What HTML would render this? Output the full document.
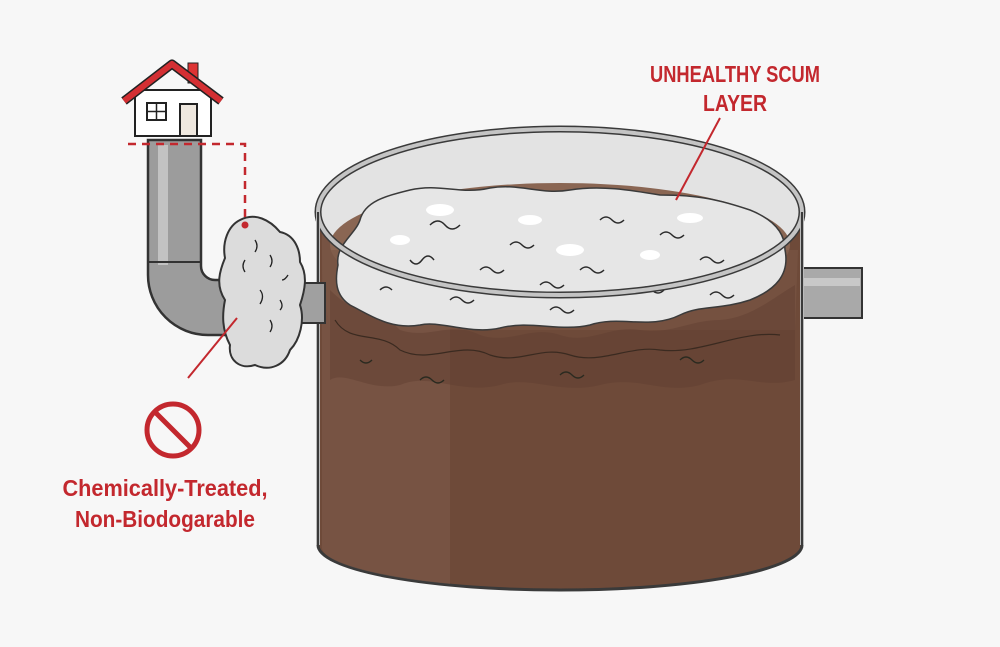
<!DOCTYPE html>
<html><head><meta charset="utf-8"><style>
html,body{margin:0;padding:0;background:#f7f7f7;}
svg{display:block;}
text{font-family:"Liberation Sans Narrow","Liberation Sans",sans-serif;font-weight:bold;fill:#c3282e;}
</style></head><body>
<svg width="1000" height="647" viewBox="0 0 1000 647">
<rect width="1000" height="647" fill="#f7f7f7"/>
<rect x="795" y="268" width="67" height="50" fill="#a9a9a9" stroke="#333" stroke-width="2"/>
<rect x="800" y="278" width="60" height="8" fill="#c8c8c8"/>
<!-- tank body -->
<path d="M318,212 L318,545 A242,45 0 0 0 802,545 L802,212 Z" fill="#6e4a39" stroke="#3a3a3a" stroke-width="3"/>
<path d="M322,212 L322,545 A238,42 0 0 0 450,584 L450,212 Z" fill="#82604f" opacity="0.45"/>
<!-- inside top (air) -->
<ellipse cx="560" cy="212" rx="240" ry="82" fill="#e3e3e3"/>
<!-- liquid surface -->
<ellipse cx="560" cy="245" rx="230" ry="62" fill="#8a6653"/>
<path d="M322,250 C322,300 330,320 330,330 L795,330 L798,250 Z" fill="#7a5646" opacity="0.6"/>
<path d="M330,290 C360,320 380,310 400,330 C430,340 450,320 480,335 C510,345 530,325 560,335 C590,345 610,325 640,330 C670,335 690,320 720,320 C750,318 770,300 795,285 L795,380 C760,390 740,370 700,385 C660,395 640,375 600,385 C560,395 530,375 500,385 C460,395 430,372 400,385 C370,392 345,370 330,380 Z" fill="#5f3f30" opacity="0.45"/>
<path d="M335,320 C350,345 380,330 400,350 C430,365 460,340 490,355 C520,365 540,345 570,355 C600,365 630,345 660,350 C700,355 740,330 780,335" fill="none" stroke="#3a2a20" stroke-width="1.2"/>
<g fill="none" stroke="#2a2a20" stroke-width="1.3"><path d="M420,380 q6,-6 12,0 t12,0"/><path d="M560,375 q6,-6 12,0 t12,0"/><path d="M680,360 q6,-6 12,0 t12,0"/><path d="M360,360 q6,6 12,0"/></g>
<!-- scum -->
<path d="M338,265 C335,245 355,235 360,220 C365,200 390,195 410,190 C440,183 460,195 490,188 C520,183 540,195 570,190 C600,185 630,190 660,195 C700,195 720,200 750,210 C770,218 785,230 785,250 C790,275 775,290 750,300 C720,310 700,305 680,315 C650,330 620,315 590,325 C560,332 530,320 500,328 C470,335 440,320 420,325 C390,330 370,315 350,305 C335,295 335,280 338,265 Z" fill="#e6e6e6" stroke="#3a3a3a" stroke-width="1.5"/>
<g fill="none" stroke="#2a2a2a" stroke-width="1.5">
<path d="M430,225 q8,-8 15,0 t15,0"/><path d="M510,245 q6,-6 12,0 t12,0"/><path d="M600,220 q6,-6 12,0 t12,0"/><path d="M580,270 q6,-6 12,0 t12,0"/><path d="M660,235 q6,-6 12,0 t12,0"/><path d="M700,260 q6,-6 12,0 t12,0"/><path d="M480,270 q6,-6 12,0 t12,0"/><path d="M410,260 q6,8 12,0 t12,0"/><path d="M540,285 q6,-6 12,0 t12,0"/><path d="M640,290 q6,-6 12,0 t12,0"/><path d="M450,300 q6,-6 12,0 t12,0"/><path d="M710,295 q6,-6 12,0 t12,0"/><path d="M380,290 q6,-6 12,0"/><path d="M550,310 q6,-6 12,0 t12,0"/>
</g>
<g fill="#fff"><ellipse cx="440" cy="210" rx="14" ry="6"/><ellipse cx="530" cy="220" rx="12" ry="5"/><ellipse cx="570" cy="250" rx="14" ry="6"/><ellipse cx="650" cy="255" rx="10" ry="5"/><ellipse cx="690" cy="218" rx="13" ry="5"/><ellipse cx="400" cy="240" rx="10" ry="5"/></g>
<!-- rim -->
<ellipse cx="560" cy="212" rx="242" ry="83" fill="none" stroke="#3a3a3a" stroke-width="7"/>
<ellipse cx="560" cy="212" rx="242" ry="83" fill="none" stroke="#c4c4c4" stroke-width="4"/>
<path d="M318,212 L318,545" stroke="#bbb" stroke-width="4"/>
<path d="M802,212 L802,545" stroke="#bbb" stroke-width="4"/>
<path d="M318,212 L318,545 A242,45 0 0 0 802,545 L802,212" fill="none" stroke="#3a3a3a" stroke-width="2"/>
<!-- left pipe -->
<path d="M148,140 L148,275 A60,60 0 0 0 208,335 L232,335 L232,280 L215,280 A14,14 0 0 1 201,266 L201,140 Z" fill="#9c9c9c" stroke="#333" stroke-width="2.5"/>
<rect x="158" y="145" width="10" height="120" fill="#c2c2c2"/>
<path d="M148,262 L201,262" stroke="#333" stroke-width="2"/>
<rect x="300" y="283" width="25" height="40" fill="#a0a0a0" stroke="#333" stroke-width="2"/>
<!-- blob -->
<path d="M240,220 C255,212 270,220 280,232 C295,235 300,250 300,262 C308,275 305,290 300,305 C305,320 300,340 290,350 C285,365 270,372 255,365 C240,370 228,360 230,345 C222,330 222,315 225,300 C215,285 220,270 225,258 C222,242 228,226 240,220 Z" fill="#dcdcdc" stroke="#333" stroke-width="2"/>
<g fill="none" stroke="#222" stroke-width="1.3"><path d="M255,240 q4,6 0,12"/><path d="M245,260 q-4,6 0,12"/><path d="M270,255 q4,6 0,12"/><path d="M260,290 q5,6 0,14"/><path d="M280,300 q4,6 0,10"/><path d="M270,320 q4,6 0,12"/><path d="M288,275 q-3,5 -6,5"/></g>
<!-- house -->
<rect x="135" y="90" width="76" height="46" fill="#fff" stroke="#222" stroke-width="2"/>
<rect x="188" y="63" width="10" height="20" fill="#d33" stroke="#222" stroke-width="1"/>
<path d="M124,101 L172,64 L221,101" fill="none" stroke="#222" stroke-width="9" stroke-linejoin="round"/>
<path d="M124,101 L172,64 L221,101" fill="none" stroke="#d42f33" stroke-width="6" stroke-linejoin="round"/>
<rect x="147" y="103" width="19" height="17" fill="#fff" stroke="#222" stroke-width="2"/>
<path d="M156.5,103 V120 M147,111.5 H166" stroke="#222" stroke-width="1.5"/>
<rect x="180" y="104" width="17" height="32" fill="#efe8df" stroke="#222" stroke-width="2"/>
<path d="M128,144 H245 V222" fill="none" stroke="#c3282e" stroke-width="2.5" stroke-dasharray="8,6"/>
<circle cx="245" cy="225" r="3.5" fill="#c3282e"/>
<line x1="237" y1="318" x2="188" y2="378" stroke="#c3282e" stroke-width="2"/>
<line x1="720" y1="118" x2="676" y2="200" stroke="#c3282e" stroke-width="2"/>
<circle cx="173" cy="430" r="26" fill="none" stroke="#c3282e" stroke-width="5"/>
<line x1="155" y1="412" x2="191" y2="448" stroke="#c3282e" stroke-width="5"/>
<text x="165" y="496" font-size="23" text-anchor="middle" textLength="205" lengthAdjust="spacingAndGlyphs">Chemically-Treated,</text>
<text x="165" y="527" font-size="23" text-anchor="middle" textLength="180" lengthAdjust="spacingAndGlyphs">Non-Biodogarable</text>
<text x="735" y="82" font-size="23" text-anchor="middle" textLength="170" lengthAdjust="spacingAndGlyphs">UNHEALTHY SCUM</text>
<text x="735" y="111" font-size="23" text-anchor="middle" textLength="64" lengthAdjust="spacingAndGlyphs">LAYER</text>
</svg>
</body></html>
